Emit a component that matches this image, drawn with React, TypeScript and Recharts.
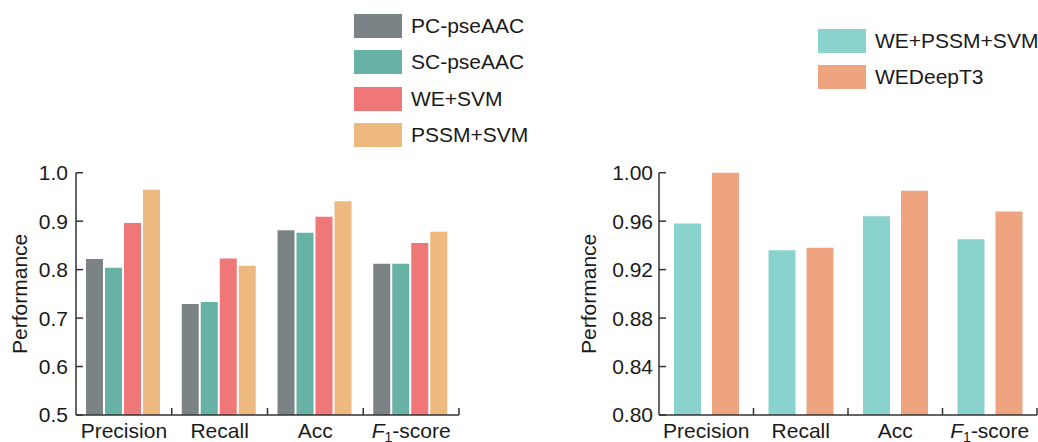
import { Bar, BarChart, Legend, XAxis, YAxis } from "recharts";

const metrics = ["Precision", "Recall", "Acc", "F1-score"];

const pcPseAAC = [0.822, 0.729, 0.881, 0.812];
const scPseAAC = [0.804, 0.733, 0.876, 0.812];
const weSvm = [0.896, 0.823, 0.909, 0.855];
const pssmSvm = [0.965, 0.808, 0.941, 0.878];

const wePssmSvm = [0.958, 0.936, 0.964, 0.945];
const weDeepT3 = [1.0, 0.938, 0.985, 0.968];

const leftTicks = [0.5, 0.6, 0.7, 0.8, 0.9, 1.0];
const rightTicks = [0.8, 0.84, 0.88, 0.92, 0.96, 1.0];

const leftNames = ["PC-pseAAC", "SC-pseAAC", "WE+SVM", "PSSM+SVM"];
const rightNames = ["WE+PSSM+SVM", "WEDeepT3"];

const FONT = "'Liberation Sans', Arial, sans-serif";
const AXIS = "#333333";
const TEXT = "#1a1a1a";

const leftData = metrics.map((m, i) => ({
  metric: m,
  pc: pcPseAAC[i],
  sc: scPseAAC[i],
  we: weSvm[i],
  pssm: pssmSvm[i]
}));

const rightData = metrics.map((m, i) => ({
  metric: m,
  wePssm: wePssmSvm[i],
  deep: weDeepT3[i]
}));

function CategoryTick(props: any) {
  const { x, y, payload, width } = props;
  const half = payload && payload.offset ? payload.offset : width / metrics.length / 2;
  const label = payload.value;
  return (
    <g>
      <line x1={x + half} x2={x + half} y1={y - 8} y2={y - 15} stroke={AXIS} strokeWidth={1.5} />
      <text x={x} y={y} dy="0.71em" textAnchor="middle" fontSize={21} fill={TEXT} fontFamily={FONT}>
        {label === "F1-score" ? (
          <>
            <tspan fontStyle="italic">F</tspan>
            <tspan fontSize={14} dy={4}>1</tspan>
            <tspan dy={-4}>-score</tspan>
          </>
        ) : (
          label
        )}
      </text>
    </g>
  );
}

function LegendBox(props: any) {
  const order: string[] = props.order || [];
  const items = [...(props.payload || [])].sort(
    (a: any, b: any) => order.indexOf(a.value) - order.indexOf(b.value)
  );
  return (
    <div style={{ fontFamily: FONT, fontSize: 21, color: TEXT, whiteSpace: "nowrap" }}>
      {items.map((it: any) => (
        <div key={it.value} style={{ display: "flex", alignItems: "center", height: 24, marginBottom: 12.3 }}>
          <span style={{ width: 48, height: 24, background: it.color, display: "inline-block", marginRight: 9 }} />
          <span>{it.value}</span>
        </div>
      ))}
    </div>
  );
}

export default function App() {
  return (
    <div
      style={{
        position: "absolute",
        left: 0,
        top: 0,
        width: 1038,
        height: 442,
        overflow: "hidden",
        background: "#ffffff",
        fontFamily: FONT
      }}
    >
      <div style={{ position: "absolute", left: 0, top: 0 }}>
        <BarChart
          width={520}
          height={442}
          data={leftData}
          margin={{ top: 172.7, right: 61, bottom: 0, left: 0 }}
          barCategoryGap={10}
          barGap={2}
        >
          <XAxis
            dataKey="metric"
            stroke={AXIS}
            strokeWidth={1.5}
            tickLine={false}
            tickSize={0}
            tickMargin={8}
            height={27}
            interval={0}
            tick={<CategoryTick />}
          />
          <YAxis
            domain={[0.5, 1.0]}
            ticks={leftTicks}
            width={76}
            stroke={AXIS}
            strokeWidth={1.5}
            tickSize={-7}
            tickMargin={15}
            tickFormatter={(v) => Number(v).toFixed(1)}
            tick={{ fill: TEXT, fontSize: 21, fontFamily: FONT }}
            label={{
              value: "Performance",
              angle: -90,
              position: "insideLeft",
              offset: 20,
              style: { textAnchor: "middle", fontSize: 21, fill: TEXT, fontFamily: FONT }
            }}
          />
          <Legend
            layout="vertical"
            align="center"
            verticalAlign="middle"
            itemSorter={null as any}
            wrapperStyle={{ left: 354, top: 14, width: "auto" }}
            content={<LegendBox order={leftNames} />}
          />
          <Bar dataKey="pc" name={leftNames[0]} fill="#7c8386" isAnimationActive={false} />
          <Bar dataKey="sc" name={leftNames[1]} fill="#68b1a5" isAnimationActive={false} />
          <Bar dataKey="we" name={leftNames[2]} fill="#ef7777" isAnimationActive={false} />
          <Bar dataKey="pssm" name={leftNames[3]} fill="#edb97f" isAnimationActive={false} />
        </BarChart>
      </div>
      <div style={{ position: "absolute", left: 560, top: 0 }}>
        <BarChart
          width={478}
          height={442}
          data={rightData}
          margin={{ top: 172.7, right: 1, bottom: 0, left: 0 }}
          barCategoryGap={15}
          barGap={11}
        >
          <XAxis
            dataKey="metric"
            stroke={AXIS}
            strokeWidth={1.5}
            tickLine={false}
            tickSize={0}
            tickMargin={8}
            height={27}
            interval={0}
            tick={<CategoryTick />}
          />
          <YAxis
            domain={[0.8, 1.0]}
            ticks={rightTicks}
            width={99}
            stroke={AXIS}
            strokeWidth={1.5}
            tickSize={-7}
            tickMargin={13}
            tickFormatter={(v) => Number(v).toFixed(2)}
            tick={{ fill: TEXT, fontSize: 21, fontFamily: FONT }}
            label={{
              value: "Performance",
              angle: -90,
              position: "insideLeft",
              offset: 29,
              style: { textAnchor: "middle", fontSize: 21, fill: TEXT, fontFamily: FONT }
            }}
          />
          <Legend
            layout="vertical"
            align="center"
            verticalAlign="middle"
            itemSorter={null as any}
            wrapperStyle={{ left: 258, top: 29, width: "auto" }}
            content={<LegendBox order={rightNames} />}
          />
          <Bar dataKey="wePssm" name={rightNames[0]} fill="#89d2ce" isAnimationActive={false} />
          <Bar dataKey="deep" name={rightNames[1]} fill="#eda47f" isAnimationActive={false} />
        </BarChart>
      </div>
    </div>
  );
}
